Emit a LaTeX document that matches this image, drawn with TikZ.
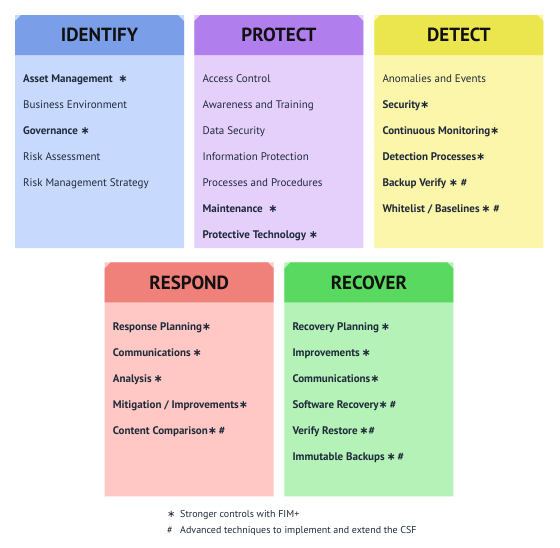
\documentclass[tikz,border=0pt]{standalone}
\usepackage{fontspec}
\setmainfont{PT Sans}
\newfontfamily\symfont{DejaVu Sans}
\usetikzlibrary{positioning,calc,shapes.misc}
\definecolor{idHead}{HTML}{7A9EE8}
\definecolor{idBody}{HTML}{C8D9FE}
\definecolor{prHead}{HTML}{B17EEE}
\definecolor{prBody}{HTML}{E5D0FC}
\definecolor{deHead}{HTML}{ECE64E}
\definecolor{deBody}{HTML}{FBF6A9}
\definecolor{rsHead}{HTML}{F0807A}
\definecolor{rsBody}{HTML}{FFC8C4}
\definecolor{rcHead}{HTML}{5AD961}
\definecolor{rcBody}{HTML}{B4F2B7}
\definecolor{itemText}{HTML}{1F2A3A}
\definecolor{headText}{HTML}{111111}
\newcommand\fa{{\symfont ∗}}

\begin{document}
\begin{tikzpicture}[x=1pt,y=1pt,font=\fontsize{11}{13}\selectfont,
  panel/.style 2 args={chamfered rectangle,chamfered rectangle xsep=3pt,
        chamfered rectangle ysep=3pt,inner sep=0pt,minimum width=169pt,
        minimum height=#1,fill=#2},
  header/.style={chamfered rectangle,chamfered rectangle corners={north west,north east},
        chamfered rectangle xsep=3pt,chamfered rectangle ysep=3pt,inner sep=0pt,
        minimum width=169pt,minimum height=40pt,fill=#1,text=headText,
        font=\bfseries\fontsize{19}{19}\selectfont},
  item/.style={anchor=base west,inner sep=0pt,text=itemText},
  bolditem/.style={item,font=\fontsize{11}{13}\selectfont\bfseries}]
  \useasboundingbox (0,0) rectangle (560,-547);

  % top row
  \node[panel={233pt}{idBody}] (identify) at (99.5,-131.5) {};
  \node[panel={233pt}{prBody},right=10pt of identify] (protect) {};
  \node[panel={233pt}{deBody},right=10.5pt of protect] (detect) {};
  % bottom row, centred under the gaps
  \coordinate (gapL) at ($(identify.south)!0.5!(protect.south)$);
  \coordinate (gapR) at ($(protect.south)!0.5!(detect.south)$);
  \node[panel={234pt}{rsBody},below=14pt of gapL] (respond) {};
  \node[panel={234pt}{rcBody},below=14pt of gapR] (recover) {};

  \node[header=idHead,anchor=north] (identify-head) at (identify.north) {IDENTIFY};
  \node[header=prHead,anchor=north] (protect-head) at (protect.north) {PROTECT};
  \node[header=deHead,anchor=north] (detect-head) at (detect.north) {DETECT};
  \node[header=rsHead,anchor=north] (respond-head) at (respond.north) {RESPOND};
  \node[header=rcHead,anchor=north] (recover-head) at (recover.north) {RECOVER};

  \foreach \txt [count=\n] in {{\bfseries Asset Management\ \ \fa},
      Business Environment,{\bfseries Governance\ \fa},Risk Assessment,
      Risk Management Strategy}
    \node[item] (identify-\n) at ($(identify.north west)+(8,{-42-26*\n})$) {\txt};
  \foreach \txt [count=\n] in {Access Control,Awareness and Training,Data Security,
      Information Protection,Processes and Procedures,{\bfseries Maintenance\ \ \fa},
      {\bfseries Protective Technology\ \fa}}
    \node[item] (protect-\n) at ($(protect.north west)+(8,{-42-26*\n})$) {\txt};
  \foreach \txt [count=\n] in {Anomalies and Events,{\bfseries Security\fa},
      {\bfseries Continuous Monitoring\fa},{\bfseries Detection Processes\fa},
      {\bfseries Backup Verify \fa\ \#},{\bfseries Whitelist / Baselines\,\fa\ \#}}
    \node[item] (detect-\n) at ($(detect.north west)+(8,{-42-26*\n})$) {\txt};
  \foreach \txt [count=\n] in {Response Planning\fa,Communications\,\fa,Analysis\,\fa,
      Mitigation / Improvements\fa,Content Comparison\fa\,\#}
    \node[bolditem] (respond-\n) at ($(respond.north west)+(8,{-42-26*\n})$) {\txt};
  \foreach \txt [count=\n] in {Recovery Planning\,\fa,Improvements\,\fa,Communications\fa,
      Software Recovery\fa\,\#,Verify Restore\,\fa\#,Immutable Backups\,\fa\,\#}
    \node[bolditem] (recover-\n) at ($(recover.north west)+(8,{-42-26*\n})$) {\txt};

  % legend
  \node[item,font=\fontsize{10}{12}\selectfont] (legend-a) at (167,-517)
    {\makebox[13pt][l]{\fa}Stronger controls with FIM+};
  \node[item,font=\fontsize{10}{12}\selectfont] (legend-b) at (167,-533)
    {\makebox[13pt][l]{\#}Advanced techniques to implement and extend the CSF};
\end{tikzpicture}
\end{document}
